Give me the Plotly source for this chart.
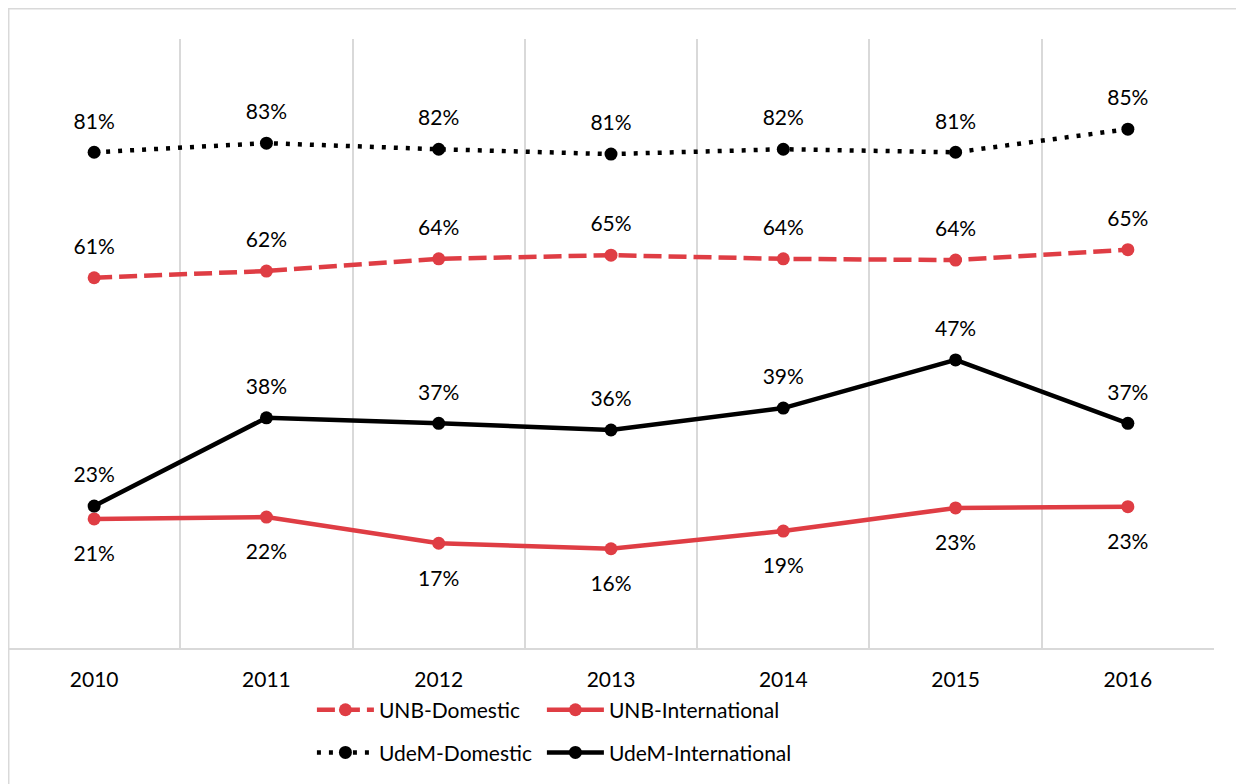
import plotly.graph_objects as go

years = [2010, 2011, 2012, 2013, 2014, 2015, 2016]
unb_domestic = [60.8, 61.9, 63.9, 64.5, 63.9, 63.7, 65.4]
unb_international = [21.2, 21.5, 17.2, 16.3, 19.2, 23.0, 23.2]
udem_domestic = [81.4, 82.9, 81.9, 81.1, 81.9, 81.4, 85.2]
udem_international = [23.3, 37.8, 36.9, 35.8, 39.4, 47.3, 36.9]

RED = "#DF3D44"
BLACK = "#000000"
GRID = "#D9D9D9"
FONT = "Lato"
WEIGHT = 400

fig = go.Figure()

def add(name, y, color, dash, pos, legend, label_pad):
    fig.add_trace(go.Scatter(
        x=years, y=y, name=name, mode="lines+markers",
        line=dict(color=color, width=4.5, dash=dash),
        marker=dict(color=color, size=13, symbol="circle"),
        legend=legend, hoverinfo="skip",
    ))
    # data labels (invisible markers give the label offset)
    fig.add_trace(go.Scatter(
        x=years, y=y, mode="markers+text", showlegend=False,
        marker=dict(size=label_pad, opacity=0),
        texttemplate="%{y:.0f}%", textposition=pos,
        textfont=dict(family=FONT, size=21, color="#000000", weight=WEIGHT),
        hoverinfo="skip",
    ))

add("UNB-Domestic", unb_domestic, RED, "18px,7px", "top center", "legend", 28)
add("UNB-International", unb_international, RED, "solid", "bottom center", "legend2", 41)
add("UdeM-Domestic", udem_domestic, BLACK, "4px,8px", "top center", "legend3", 28)
add("UdeM-International", udem_international, BLACK, "solid", "top center", "legend4", 28)

def leg(x, y):
    return dict(orientation="h", x=x, xanchor="left", y=y, yanchor="middle",
                itemwidth=57, font=dict(family=FONT, size=21, weight=WEIGHT),
                bgcolor="rgba(0,0,0,0)", tracegroupgap=0)

COL1, COL2 = 0.252, 0.4427
ROW1, ROW2 = -0.102, -0.172

fig.update_layout(
    width=1236, height=776,
    margin=dict(l=0, r=30, t=31, b=136),
    paper_bgcolor="white", plot_bgcolor="white",
    font=dict(family=FONT, size=20, color="#000000"),
    xaxis=dict(
        range=[2009.5, 2016.5], tickvals=years, ticktext=[str(y) for y in years],
        showgrid=False, zeroline=False, showline=True, linecolor=GRID, linewidth=1.5,
        ticks="", ticklabelstandoff=12,
        tickfont=dict(family=FONT, size=21, color="#000000", weight=WEIGHT),
        minor=dict(tickvals=[y + 0.5 for y in [2009] + years], showgrid=True,
                   gridcolor=GRID, gridwidth=1.5, ticks=""),
    ),
    yaxis=dict(range=[0, 100], visible=False, showgrid=False, zeroline=False),
    legend=leg(COL1, ROW1),
    legend2=leg(COL2, ROW1),
    legend3=leg(COL1, ROW2),
    legend4=leg(COL2, ROW2),
    showlegend=True,
    shapes=[dict(type="rect", xref="paper", yref="paper",
                 x0=0.0006, x1=1.0240, y0=-0.235, y1=1.0497,
                 line=dict(color=GRID, width=1.5), layer="below")],
)

fig.write_html("out.html")
